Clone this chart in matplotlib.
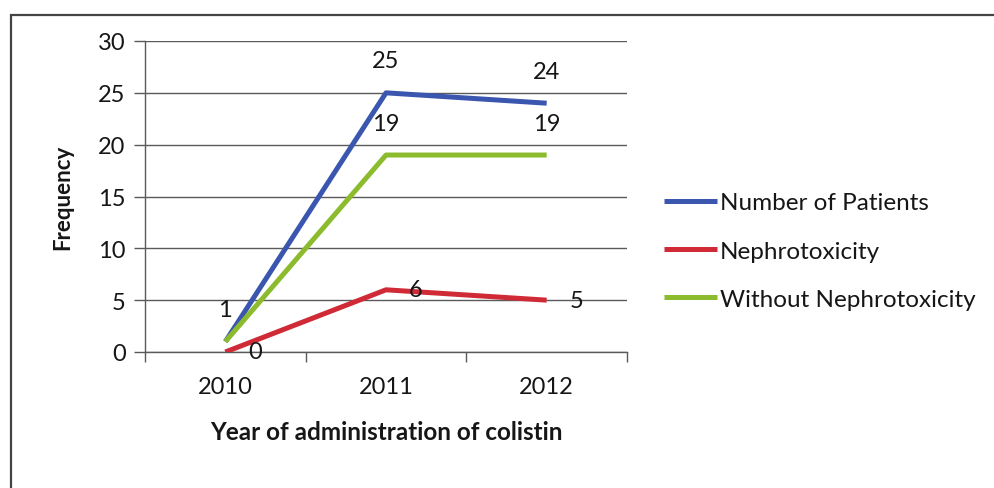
import matplotlib
matplotlib.use("Agg")
import matplotlib.pyplot as plt
from matplotlib.patches import Rectangle

plt.rcParams['font.family'] = ['Lato', 'DejaVu Sans']

# colistin use by year
years = ['2010', '2011', '2012']
patients = [1, 25, 24]
nephro = [0, 6, 5]
without_nephro = [1, 19, 19]

c_blue = '#3a56ae'
c_red = '#cf2a36'
c_green = '#8dbb2e'
grid_c = '#5a5a5a'
txt_c = '#161616'

fig = plt.figure(figsize=(9.94, 4.89), dpi=100)
ax = fig.add_axes([145/994, 1-353/489, (627-145)/994, (353-42)/489])

x = [0.5, 1.5, 2.5]
ax.plot(x, patients, color=c_blue, lw=3.6, solid_capstyle='butt', label='Number of Patients', zorder=3)
ax.plot(x, nephro, color=c_red, lw=3.6, solid_capstyle='butt', label='Nephrotoxicity', zorder=3)
ax.plot(x, without_nephro, color=c_green, lw=3.6, solid_capstyle='butt', label='Without Nephrotoxicity', zorder=3)

# value labels: blue/green above the point, red to the right
for xi, v in zip(x, patients):
    ax.annotate(str(v), (xi, v), xytext=(0, 32), textcoords='offset pixels',
                ha='center', va='center', fontsize=17, color=txt_c)
for xi, v in zip(x[1:], without_nephro[1:]):
    ax.annotate(str(v), (xi, v), xytext=(0, 32), textcoords='offset pixels',
                ha='center', va='center', fontsize=17, color=txt_c)
for xi, v in zip(x, nephro):
    ax.annotate(str(v), (xi, v), xytext=(30, 0), textcoords='offset pixels',
                ha='center', va='center', fontsize=17, color=txt_c)

ax.set_xlim(0, 3)
ax.set_ylim(0, 30)
ax.set_yticks(range(0, 31, 5))
ax.set_xticks([0, 1, 2, 3])
ax.set_xticklabels([])
ax.set_xticks(x, minor=True)
ax.set_xticklabels(years, minor=True)
ax.tick_params(axis='x', which='minor', length=0, pad=17, labelsize=17, labelcolor=txt_c)
ax.tick_params(axis='x', which='major', length=7, width=1, color=grid_c, direction='out')
ax.tick_params(axis='y', length=8, width=1, color=grid_c, labelsize=17, pad=6, labelcolor=txt_c)

ax.grid(axis='y', color=grid_c, lw=1)
ax.set_axisbelow(True)
for s in ['top', 'right']:
    ax.spines[s].set_visible(False)
for s in ['left', 'bottom']:
    ax.spines[s].set_color(grid_c)
    ax.spines[s].set_linewidth(1)
ax.patch.set_alpha(0)

ax.set_ylabel('Frequency', fontsize=16, fontweight='bold', labelpad=18, color=txt_c)
ax.set_xlabel('Year of administration of colistin', fontsize=17.5, fontweight='bold', labelpad=17, color=txt_c)

fig.legend(loc='center left', bbox_to_anchor=(664/994, 1-252/489), frameon=False,
           fontsize=17.5, handlelength=2.2, handletextpad=0.1, labelspacing=1.12,
           borderaxespad=0, borderpad=0, labelcolor=txt_c)

# outer chart frame
fig.add_artist(Rectangle((11/994, -0.2), 1.2, 1.2 - 16/489, transform=fig.transFigure,
                         fill=False, ec='#444444', lw=1.6))

fig.savefig('out.png', dpi=100)
